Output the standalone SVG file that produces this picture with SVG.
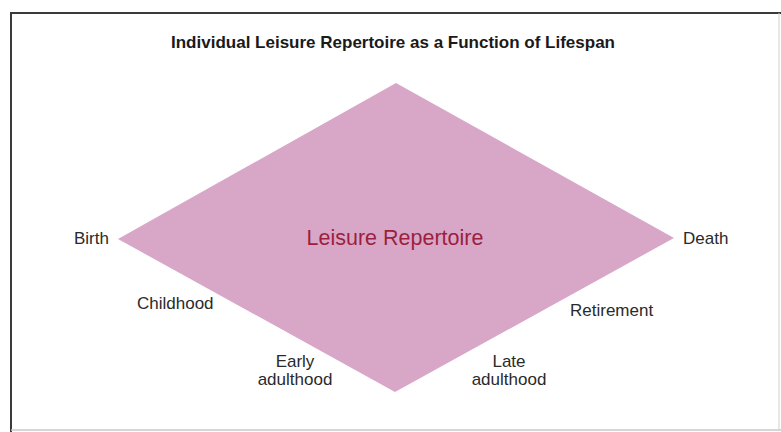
<svg xmlns="http://www.w3.org/2000/svg" width="781" height="432" viewBox="0 0 781 432">
<style>
.lbl{font-family:"Liberation Sans",Arial,sans-serif;font-size:17px;fill:#2a2a2a}
.title{font-family:"Liberation Sans",Arial,sans-serif;font-size:17px;font-weight:bold;fill:#1a1a1a}
.main{font-family:"Liberation Sans",Arial,sans-serif;font-size:21.5px;fill:#9c1f3e}
</style>
<rect width="781" height="432" fill="#ffffff"/>
<g id="frame">
<line x1="10" y1="13" x2="781" y2="13" stroke="#3a3a3a" stroke-width="2"/>
<line x1="11" y1="12" x2="11" y2="432" stroke="#3a3a3a" stroke-width="2"/>
<line x1="779" y1="13" x2="779" y2="430" stroke="#cfcfcf" stroke-width="1"/>
<line x1="11" y1="430" x2="781" y2="430" stroke="#c8c8c8" stroke-width="1.5"/>
</g>
<g id="title"><text class="title" x="393" y="48" text-anchor="middle">Individual Leisure Repertoire as a Function of Lifespan</text></g>
<g id="repertoire">
<polygon points="396,83 674,238 395,392 118,239" fill="#d8a7c8"/>
<text class="main" x="395" y="245" text-anchor="middle">Leisure Repertoire</text>
</g>
<g id="birth"><text class="lbl" x="74" y="244">Birth</text></g>
<g id="death"><text class="lbl" x="683" y="244">Death</text></g>
<g id="childhood"><text class="lbl" x="137" y="309">Childhood</text></g>
<g id="retirement"><text class="lbl" x="570" y="316">Retirement</text></g>
<g id="early-adulthood"><text class="lbl" x="295" y="367" text-anchor="middle">Early</text><text class="lbl" x="295" y="385" text-anchor="middle">adulthood</text></g>
<g id="late-adulthood"><text class="lbl" x="509" y="367" text-anchor="middle">Late</text><text class="lbl" x="509" y="385" text-anchor="middle">adulthood</text></g>
<g id="connectors"/>
</svg>
